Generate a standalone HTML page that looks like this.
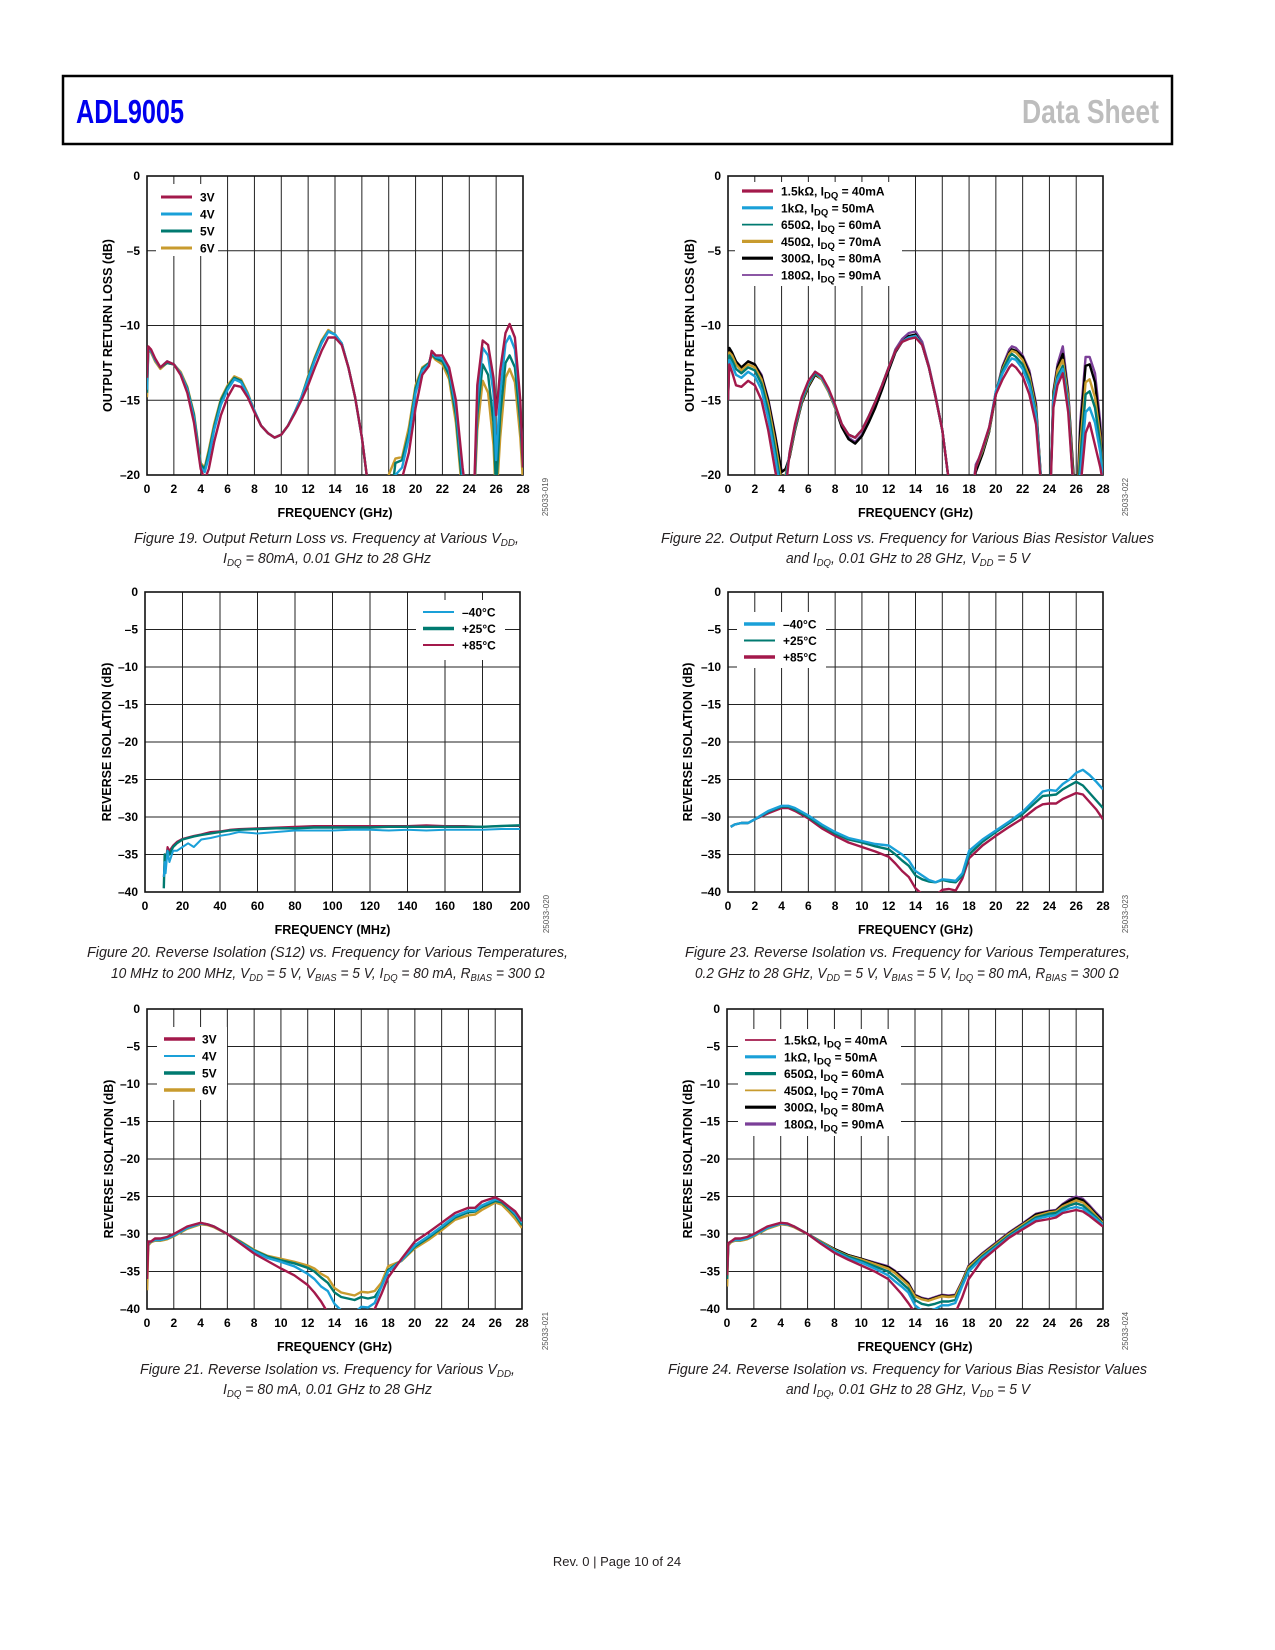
<!DOCTYPE html>
<html><head><meta charset="utf-8"><title>ADL9005 Data Sheet page 10</title>
<style>
html,body{margin:0;padding:0;background:#fff;}
svg{display:block;font-family:"Liberation Sans",sans-serif;}
.cap{font-family:"Liberation Sans",sans-serif;font-style:italic;font-size:14.5px;fill:#231f20;}
</style></head>
<body>
<svg id="page" xmlns="http://www.w3.org/2000/svg" width="1275" height="1650" viewBox="0 0 1275 1650">
<rect x="63" y="76" width="1109" height="68" fill="none" stroke="#000" stroke-width="2.5"/>
<text x="76" y="123" font-size="33" font-weight="bold" fill="#0000ee" textLength="108" lengthAdjust="spacingAndGlyphs">ADL9005</text>
<text x="1022" y="123" font-size="33" font-weight="bold" fill="#bdbdbd" textLength="137" lengthAdjust="spacingAndGlyphs">Data Sheet</text>

<g class="cap">
<text x="134" y="543" textLength="385" lengthAdjust="spacingAndGlyphs">Figure 19. Output Return Loss vs. Frequency at Various V<tspan font-size="10" dy="3">DD</tspan><tspan dy="-3">,</tspan></text>
<text x="223" y="563" textLength="208" lengthAdjust="spacingAndGlyphs">I<tspan font-size="10" dy="3">DQ</tspan><tspan dy="-3"> = 80mA, 0.01 GHz to 28 GHz</tspan></text>
</g>
<g class="cap">
<text x="661" y="543" textLength="493" lengthAdjust="spacingAndGlyphs">Figure 22. Output Return Loss vs. Frequency for Various Bias Resistor Values</text>
<text x="786" y="563" textLength="244" lengthAdjust="spacingAndGlyphs">and I<tspan font-size="10" dy="3">DQ</tspan><tspan dy="-3">, 0.01 GHz to 28 GHz, V</tspan><tspan font-size="10" dy="3">DD</tspan><tspan dy="-3"> = 5 V</tspan></text>
</g>
<g class="cap">
<text x="87" y="957" textLength="481" lengthAdjust="spacingAndGlyphs">Figure 20. Reverse Isolation (S12) vs. Frequency for Various Temperatures,</text>
<text x="111" y="978" textLength="434" lengthAdjust="spacingAndGlyphs">10 MHz to 200 MHz, V<tspan font-size="10" dy="3">DD</tspan><tspan dy="-3"> = 5 V, V</tspan><tspan font-size="10" dy="3">BIAS</tspan><tspan dy="-3"> = 5 V, I</tspan><tspan font-size="10" dy="3">DQ</tspan><tspan dy="-3"> = 80 mA, R</tspan><tspan font-size="10" dy="3">BIAS</tspan><tspan dy="-3"> = 300 Ω</tspan></text>
</g>
<g class="cap">
<text x="685" y="957" textLength="445" lengthAdjust="spacingAndGlyphs">Figure 23. Reverse Isolation vs. Frequency for Various Temperatures,</text>
<text x="695" y="978" textLength="424" lengthAdjust="spacingAndGlyphs">0.2 GHz to 28 GHz, V<tspan font-size="10" dy="3">DD</tspan><tspan dy="-3"> = 5 V, V</tspan><tspan font-size="10" dy="3">BIAS</tspan><tspan dy="-3"> = 5 V, I</tspan><tspan font-size="10" dy="3">DQ</tspan><tspan dy="-3"> = 80 mA, R</tspan><tspan font-size="10" dy="3">BIAS</tspan><tspan dy="-3"> = 300 Ω</tspan></text>
</g>
<g class="cap">
<text x="140" y="1374" textLength="375" lengthAdjust="spacingAndGlyphs">Figure 21. Reverse Isolation vs. Frequency for Various V<tspan font-size="10" dy="3">DD</tspan><tspan dy="-3">,</tspan></text>
<text x="223" y="1394" textLength="209" lengthAdjust="spacingAndGlyphs">I<tspan font-size="10" dy="3">DQ</tspan><tspan dy="-3"> = 80 mA, 0.01 GHz to 28 GHz</tspan></text>
</g>
<g class="cap">
<text x="668" y="1374" textLength="479" lengthAdjust="spacingAndGlyphs">Figure 24. Reverse Isolation vs. Frequency for Various Bias Resistor Values</text>
<text x="786" y="1394" textLength="244" lengthAdjust="spacingAndGlyphs">and I<tspan font-size="10" dy="3">DQ</tspan><tspan dy="-3">, 0.01 GHz to 28 GHz, V</tspan><tspan font-size="10" dy="3">DD</tspan><tspan dy="-3"> = 5 V</tspan></text>
</g>
<text x="617" y="1566" font-size="13" text-anchor="middle" fill="#231f20">Rev. 0 | Page 10 of 24</text>
</svg>
<script>
// ---------- tick arrays ----------
const X_TICKS_GHZ=[0,2,4,6,8,10,12,14,16,18,20,22,24,26,28];
const X_TICKS_MHZ=[0,20,40,60,80,100,120,140,160,180,200];
const Y_TICKS_20=[0,-5,-10,-15,-20];
const Y_TICKS_40=[0,-5,-10,-15,-20,-25,-30,-35,-40];

// ---------- Figure 19 ----------
const F19=[0,0.1,0.3,0.6,1,1.5,2,2.5,3,3.5,4,4.3,4.6,5,5.5,6,6.5,7,7.5,8,8.5,9,9.5,10,10.5,11,11.5,12,12.5,13,13.5,14,14.5,15,15.5,16,16.5,17,18,18.5,19,19.5,20,20.5,21,21.2,21.5,22,22.5,23,23.5,24,24.3,24.6,25,25.4,25.8,26,26.3,26.7,27,27.4,27.8,28];
const ORL_3V=[-13.5,-11.4,-11.6,-12.2,-12.8,-12.4,-12.6,-13.3,-14.5,-16.5,-19.6,-20.3,-19.6,-17.8,-16,-14.8,-14,-14.1,-14.8,-15.8,-16.7,-17.2,-17.5,-17.3,-16.7,-15.9,-15,-14,-12.8,-11.7,-10.8,-10.8,-11.3,-12.8,-14.8,-17.5,-21,-23,-23,-20.5,-20.2,-18.5,-15.5,-13.3,-12.7,-11.7,-12,-12,-12.8,-15,-19.5,-23,-23,-14,-11,-11.3,-13.5,-16,-13,-10.5,-9.9,-10.8,-15,-19.5];
const ORL_4V=[-14.3,-11.5,-11.7,-12.3,-12.8,-12.4,-12.6,-13.2,-14.3,-16.2,-19.5,-19.8,-18.8,-17,-15.3,-14.3,-13.6,-13.8,-14.6,-15.7,-16.7,-17.2,-17.5,-17.3,-16.7,-15.8,-14.8,-13.6,-12.3,-11.2,-10.4,-10.6,-11.2,-12.8,-14.8,-17.5,-21,-23,-23,-20,-19.5,-17.5,-14.5,-13,-12.6,-11.8,-12.1,-12.2,-13,-15.5,-20,-23,-23,-15,-11.5,-12,-14.5,-19,-14.5,-11.2,-10.7,-11.6,-15.5,-19];
const ORL_5V=[-14.5,-11.5,-11.7,-12.3,-12.8,-12.5,-12.6,-13.2,-14.2,-16,-19.3,-19.6,-18.5,-16.8,-15,-14.1,-13.5,-13.7,-14.6,-15.7,-16.7,-17.2,-17.5,-17.3,-16.7,-15.8,-14.8,-13.5,-12.2,-11.1,-10.4,-10.6,-11.2,-12.8,-14.8,-17.5,-21,-23,-23,-19.2,-19,-17.2,-14.2,-12.9,-12.5,-11.9,-12.2,-12.4,-13.3,-16,-21,-23,-23,-16,-12.6,-13.3,-16.5,-21,-16,-12.5,-12,-12.8,-16.5,-19.5];
const ORL_6V=[-14.8,-11.6,-11.8,-12.4,-12.9,-12.5,-12.6,-13.1,-14.1,-15.9,-19.2,-19.5,-18.3,-16.6,-14.9,-14,-13.4,-13.6,-14.5,-15.7,-16.7,-17.2,-17.5,-17.3,-16.7,-15.8,-14.8,-13.4,-12.1,-11,-10.3,-10.6,-11.2,-12.8,-14.8,-17.5,-21,-23,-20,-18.9,-18.8,-16.8,-14,-12.8,-12.5,-12,-12.3,-12.6,-13.6,-16.5,-21.5,-23,-23,-17,-13.7,-14.5,-18,-22,-17.5,-13.5,-12.9,-13.8,-17.5,-20.5];

// ---------- Figure 22 ----------
const F22=F19;
const ORLB_1K5=[-15,-12.6,-13.1,-14,-14.1,-13.7,-14,-15,-17,-19.6,-22,-21,-18.5,-16.6,-14.8,-13.7,-13.1,-13.4,-14.2,-15.3,-16.6,-17.3,-17.5,-17,-16.1,-15.1,-14,-12.8,-11.7,-11.1,-10.9,-10.8,-11.3,-12.8,-14.8,-17,-20.5,-23,-23,-19.5,-18.2,-16.8,-14.6,-13.6,-12.8,-12.6,-12.8,-13.4,-14.6,-16.6,-22,-23,-15.5,-14,-13.2,-15.8,-21,-23,-21,-17.2,-16.5,-18,-19.5,-20.5];
const ORLB_1K=[-15,-12.3,-12.6,-13.3,-13.5,-13.1,-13.4,-14.3,-16.2,-18.7,-21.5,-20.5,-18.5,-16.7,-14.9,-13.8,-13.1,-13.5,-14.3,-15.4,-16.6,-17.3,-17.5,-17,-16.1,-15.1,-14,-12.8,-11.7,-11.1,-10.8,-10.7,-11.3,-12.8,-14.8,-17,-20.5,-23,-23,-19.5,-18.2,-16.8,-14.4,-13.2,-12.4,-12.2,-12.3,-12.9,-14,-16,-22,-23,-15,-13.6,-12.9,-15.4,-21,-23,-20,-15.8,-15.5,-16.5,-18.5,-20.5];
const ORLB_650=[-15,-12,-12.3,-12.9,-13.2,-12.8,-13,-13.9,-15.7,-18.2,-21,-20.2,-18.6,-16.8,-15,-13.9,-13.2,-13.5,-14.3,-15.4,-16.6,-17.3,-17.5,-17,-16.1,-15.1,-14,-12.8,-11.7,-11.1,-10.8,-10.7,-11.3,-12.8,-14.8,-17,-20.5,-23,-23,-19.5,-18.3,-16.9,-14.4,-13,-12.1,-11.9,-12.1,-12.6,-13.7,-15.8,-22,-23,-14.8,-13.4,-12.7,-15.2,-21,-23,-19,-14.6,-14.4,-15.5,-18,-20.5];
const ORLB_450=[-15,-11.8,-12,-12.6,-13,-12.6,-12.8,-13.6,-15.3,-17.7,-20.5,-20,-18.7,-16.9,-15.1,-14,-13.2,-13.6,-14.4,-15.5,-16.6,-17.3,-17.5,-17,-16.1,-15.1,-14,-12.8,-11.7,-11.1,-10.8,-10.7,-11.3,-12.8,-14.8,-17,-20.5,-23,-23,-19.5,-18.4,-17,-14.5,-12.9,-11.9,-11.7,-11.8,-12.3,-13.4,-15.6,-22,-23,-14.7,-13,-12.3,-14.8,-20.5,-23,-18,-13.8,-13.6,-14.8,-17.5,-20.5];
const ORLB_300=[-15,-11.5,-11.8,-12.4,-12.8,-12.4,-12.6,-13.4,-15,-17.3,-19.8,-19.6,-18.8,-17,-15.2,-14.1,-13.3,-13.6,-14.4,-15.5,-16.8,-17.6,-17.9,-17.4,-16.5,-15.5,-14.3,-13,-11.8,-11.1,-10.7,-10.6,-11.3,-12.8,-14.8,-17,-20.5,-23,-23,-19.8,-18.6,-17.1,-14.6,-12.8,-11.8,-11.6,-11.7,-12.1,-13.2,-15.4,-22,-23,-14.5,-12.8,-11.9,-14.6,-20,-23,-17,-12.7,-12.6,-13.8,-17,-20.5];
const ORLB_180=[-15,-11.6,-11.9,-12.5,-12.9,-12.4,-12.6,-13.3,-14.9,-17.2,-19.8,-19.6,-18.8,-17,-15.2,-14.1,-13.3,-13.6,-14.4,-15.5,-16.7,-17.5,-17.8,-17.3,-16.4,-15.4,-14.2,-12.9,-11.6,-10.9,-10.5,-10.4,-11.1,-12.7,-14.7,-17,-20.5,-23,-23,-19.3,-18.4,-17,-14.5,-12.7,-11.6,-11.4,-11.5,-12,-13,-15.2,-22,-23,-14.4,-12.6,-11.4,-14.4,-20,-23,-16.5,-12.1,-12.1,-13.2,-16.5,-20.5];

// ---------- Figure 20 ----------
const F20=[10,10.5,11,12,13,15,17,20,23,26,30,35,40,45,50,60,70,80,90,100,110,120,130,140,150,160,170,180,190,200];
const RI_M40=[-38,-36,-37.5,-34.5,-36,-34.5,-34.5,-34,-33.5,-34,-33,-32.8,-32.5,-32.3,-32,-32.2,-32,-31.8,-31.8,-31.8,-31.7,-31.7,-31.8,-31.7,-31.8,-31.7,-31.7,-31.7,-31.6,-31.6];
const RI_P25=[-39.5,-35,-36.5,-34.5,-35,-34,-33.5,-33,-32.8,-32.6,-32.4,-32.2,-32,-31.8,-31.7,-31.6,-31.5,-31.5,-31.4,-31.4,-31.4,-31.4,-31.3,-31.3,-31.3,-31.3,-31.3,-31.3,-31.2,-31.1];
const RI_P85=[-38,-35.5,-36,-34,-34.5,-33.8,-33.3,-32.9,-32.7,-32.5,-32.3,-32,-31.9,-31.7,-31.6,-31.5,-31.4,-31.3,-31.2,-31.2,-31.2,-31.2,-31.2,-31.2,-31.1,-31.2,-31.2,-31.3,-31.2,-31.2];

// ---------- Figure 23 ----------
const F23=[0.2,0.5,1,1.5,2,3,4,4.5,5,6,7,8,9,10,11,12,12.5,13,13.5,14,14.5,15,15.5,16,16.5,17,17.5,18,19,20,21,22,23,23.5,24,24.5,25,25.5,26,26.5,27,27.5,28];
const RIT_M40=[-31.3,-31,-30.8,-30.8,-30.3,-29.2,-28.5,-28.5,-28.8,-29.8,-31,-32,-32.8,-33.2,-33.6,-33.8,-34.4,-35,-35.8,-37.2,-37.8,-38.4,-38.7,-38.3,-38.4,-38.5,-37.5,-34.5,-33,-31.8,-30.6,-29.3,-27.5,-26.6,-26.4,-26.5,-25.6,-25,-24.1,-23.7,-24.4,-25.3,-26.3];
const RIT_P25=[-31.3,-31,-30.8,-30.8,-30.3,-29.3,-28.6,-28.6,-29,-30,-31.2,-32.2,-33,-33.4,-33.9,-34.3,-35,-35.8,-36.5,-37.8,-38.3,-38.6,-38.7,-38.4,-38.6,-38.7,-37.8,-35,-33.3,-32,-30.8,-29.6,-28,-27.2,-27.1,-27,-26.3,-25.8,-25.3,-25.8,-26.8,-27.8,-28.8];
const RIT_P85=[-31.3,-31,-30.8,-30.8,-30.3,-29.5,-28.8,-28.8,-29.2,-30.2,-31.5,-32.5,-33.4,-34,-34.6,-35.3,-36.2,-37.2,-38,-39.5,-40.3,-40.5,-40.5,-39.7,-39.6,-39.8,-38.2,-35.5,-33.8,-32.5,-31.3,-30.2,-28.8,-28.3,-28.2,-28.2,-27.6,-27.2,-26.8,-27,-28,-29,-30.3];

// ---------- Figure 21 ----------
const F21=[0.01,0.1,0.3,0.6,1,1.5,2,3,4,4.5,5,6,7,8,9,10,11,12,12.5,13,13.5,14,14.5,15,15.5,16,16.5,17,17.5,18,19,20,21,22,23,24,24.5,25,25.5,26,26.5,27,27.5,28];
const RIV_3V=[-36,-31,-31,-30.6,-30.6,-30.4,-30,-29,-28.5,-28.7,-29,-30,-31.3,-32.6,-33.6,-34.6,-35.5,-36.8,-37.8,-39,-40.5,-41,-41,-41,-41,-41,-40.5,-40,-38,-35.8,-33.3,-31,-29.8,-28.5,-27.2,-26.5,-26.5,-25.7,-25.4,-25.1,-25.6,-26.3,-27,-28.3];
const RIV_4V=[-33,-31.3,-31,-30.8,-30.8,-30.6,-30.2,-29.2,-28.6,-28.7,-29,-30,-31.2,-32.3,-33.2,-33.7,-34.3,-35.3,-36,-37,-37.6,-39.3,-40.2,-40.8,-40.5,-39.7,-39.8,-39.2,-37,-35,-33.5,-31.5,-30.3,-29,-27.6,-26.9,-26.9,-26.2,-25.8,-25.4,-25.6,-26.4,-27.3,-28.5];
const RIV_5V=[-34,-31.3,-31,-30.8,-30.8,-30.6,-30.2,-29.2,-28.6,-28.7,-29,-30,-31.1,-32.2,-33,-33.5,-33.9,-34.5,-35,-35.8,-36.5,-37.8,-38.4,-38.6,-38.8,-38.4,-38.6,-38.4,-37,-34.8,-33.5,-31.7,-30.5,-29.2,-27.8,-27.1,-27,-26.4,-26,-25.6,-25.8,-26.6,-27.5,-28.8];
const RIV_6V=[-37.5,-31.5,-31.1,-30.9,-30.9,-30.7,-30.3,-29.3,-28.7,-28.8,-29.1,-30,-31,-32.1,-32.9,-33.3,-33.7,-34.2,-34.6,-35.3,-35.8,-37.2,-37.8,-38,-38.2,-37.7,-37.8,-37.6,-36.5,-34.3,-33.6,-31.9,-30.8,-29.5,-28.1,-27.5,-27.4,-26.8,-26.3,-25.8,-26.1,-27,-28,-29.2];

// ---------- Figure 24 ----------
const F24=F21;
const RIB_1K5=[-35.5,-31.2,-31,-30.6,-30.6,-30.4,-30,-29,-28.5,-28.6,-29,-30,-31.3,-32.5,-33.4,-34.2,-35,-36,-37,-38,-39.2,-40.5,-41,-41,-41,-41,-41,-40.5,-38.5,-36,-33.5,-32,-30.5,-29.4,-28.3,-28,-27.8,-27.2,-27,-26.8,-27,-27.6,-28.3,-29];
const RIB_1K=[-35,-31.3,-31,-30.8,-30.8,-30.6,-30.2,-29.2,-28.6,-28.7,-29,-30,-31.2,-32.3,-33.2,-33.8,-34.6,-35.5,-36.3,-37,-37.8,-39.5,-40.2,-40.3,-40,-39.5,-39.5,-39.2,-37,-35,-33.2,-31.8,-30.4,-29.2,-28,-27.6,-27.5,-26.9,-26.6,-26.4,-26.6,-27.3,-28,-28.8];
const RIB_650=[-36,-31.3,-31,-30.8,-30.8,-30.6,-30.2,-29.2,-28.6,-28.7,-29,-30,-31.1,-32.2,-33,-33.6,-34.3,-35,-35.7,-36.5,-37.3,-38.8,-39.3,-39.5,-39.3,-39,-39,-38.8,-36.8,-34.7,-33,-31.6,-30.2,-29,-27.8,-27.3,-27.2,-26.6,-26.2,-25.9,-26.2,-27,-27.8,-28.7];
const RIB_450=[-37,-31.5,-31.1,-30.9,-30.9,-30.7,-30.3,-29.3,-28.7,-28.8,-29.1,-30,-31,-32.1,-32.9,-33.4,-34,-34.6,-35.2,-36,-36.8,-38.3,-38.7,-38.9,-38.6,-38.3,-38.4,-38.3,-36.5,-34.4,-32.8,-31.4,-30,-28.8,-27.6,-27.1,-27,-26.3,-25.9,-25.5,-25.8,-26.6,-27.6,-28.5];
const RIB_300=[-32,-31.3,-31,-30.8,-30.8,-30.6,-30.2,-29.2,-28.6,-28.7,-29,-30,-31,-32,-32.8,-33.3,-33.9,-34.4,-35,-35.8,-36.6,-38.2,-38.6,-38.8,-38.5,-38.2,-38.3,-38.2,-36.4,-34.3,-32.7,-31.3,-29.9,-28.7,-27.4,-27,-26.9,-26.1,-25.6,-25.2,-25.5,-26.4,-27.4,-28.3];
const RIB_180=[-31.5,-31.3,-31,-30.8,-30.8,-30.6,-30.2,-29.2,-28.6,-28.7,-29,-30,-31,-32,-32.8,-33.3,-33.8,-34.3,-34.9,-35.7,-36.5,-38.1,-38.5,-38.7,-38.4,-38.1,-38.2,-38.1,-36.3,-34.2,-32.6,-31.2,-29.8,-28.6,-27.3,-26.9,-26.8,-26,-25.4,-25,-25.3,-26.2,-27.2,-28.1];

// ---------- rendering ----------
const NS='http://www.w3.org/2000/svg';
const root=document.getElementById('page');
const C_RED='#a3194b',C_BLUE='#1aa0d8',C_TEAL='#007a70',C_GOLD='#c89b2e',C_BLACK='#000',C_PURP='#7b3f98';
function mk(tag,attrs,parent){const e=document.createElementNS(NS,tag);for(const k in attrs)e.setAttribute(k,attrs[k]);if(parent)parent.appendChild(e);return e;}
function fmtTick(v){return v<0?'\u2013'+(-v):String(v);}
let clipN=0;
function drawChart(c){
  const g=mk('g',{},root);
  
  
  const sx=v=>c.x0+(v-c.xmin)/(c.xmax-c.xmin)*(c.x1-c.x0);
  const sy=v=>c.y0+(c.ymax-v)/(c.ymax-c.ymin)*(c.y1-c.y0);
  const grid=mk('g',{stroke:'#222','stroke-width':'1'},g);
  
  
  c.xticks.forEach(t=>{
    mk('line',{x1:sx(t),x2:sx(t),y1:c.y0,y2:c.y1},grid);
    const tl=mk('text',{x:sx(t),y:c.y1+18,'text-anchor':'middle','font-size':'12','font-weight':'bold',fill:'#000'},g);
    
    
    tl.textContent=fmtTick(t);
  });
  c.yticks.forEach(t=>{
    mk('line',{x1:c.x0,x2:c.x1,y1:sy(t),y2:sy(t)},grid);
    const tl=mk('text',{x:c.x0-7,y:sy(t)+4,'text-anchor':'end','font-size':'12','font-weight':'bold',fill:'#000'},g);
    
    
    tl.textContent=fmtTick(t);
  });
  // legend background
  const lb=mk('rect',{x:c.lg.bx,y:c.lg.by,width:c.lg.bw,height:c.lg.bh,fill:'#fff'},g);
  
  
  const fr=mk('rect',{x:c.x0,y:c.y0,width:c.x1-c.x0,height:c.y1-c.y0,fill:'none',stroke:'#111','stroke-width':'1.6'},g);
  
  
  const cid='clip'+(clipN++);
  const cp=mk('clipPath',{id:cid},g);
  mk('rect',{x:c.x0,y:c.y0,width:c.x1-c.x0,height:c.y1-c.y0},cp);
  const sg=mk('g',{'clip-path':'url(#'+cid+')'},g);
  c.series.slice().reverse().forEach(s=>{
    let d='';
    s.x.forEach((xv,i)=>{d+=(i?'L':'M')+sx(xv).toFixed(1)+','+sy(s.y[i]).toFixed(1);});
    const p=mk('path',{d:d,fill:'none',stroke:s.color,'stroke-width':s.w||2.4,'stroke-linejoin':'round'},sg);
    
    
  });
  c.series.forEach((s,i)=>{
    const y=c.lg.y+i*c.lg.dy;
    const ln=mk('line',{x1:c.lg.lx,x2:c.lg.lx+31,y1:y,y2:y,stroke:s.color,'stroke-width':s.lw||3},g);
    
    
    const t=mk('text',{x:c.lg.tx,y:y+4.5,'font-size':'12','font-weight':'bold',fill:'#000'},g);
    
    
    if(Array.isArray(s.label)){
      t.appendChild(document.createTextNode(s.label[0]));
      const sub=mk('tspan',{'font-size':'9.5',dy:'3'},t);sub.textContent=s.label[1];
      const rest=mk('tspan',{dy:'-3'},t);rest.textContent=s.label[2];
    } else t.textContent=s.label;
  });
  const xt=mk('text',{x:(c.x0+c.x1)/2,y:c.y1+42,'text-anchor':'middle','font-size':'12.5','font-weight':'bold',fill:'#000'},g);
  
  
  xt.textContent=c.xtitle;
  const ycy=(c.y0+c.y1)/2;
  const yt=mk('text',{x:c.ytx,y:ycy,'text-anchor':'middle','font-size':'12.5','font-weight':'bold',fill:'#000',transform:'rotate(-90 '+c.ytx+' '+ycy+')'},g);
  
  
  yt.textContent=c.ytitle;
  const cx=c.codeX, cy=c.y1+22;
  const ct=mk('text',{x:cx,y:cy,'text-anchor':'middle','font-size':'8',fill:'#555',transform:'rotate(-90 '+cx+' '+cy+')'},g);
  
  
  ct.textContent=c.code;
}
const GHZ='FREQUENCY (GHz)';
drawChart({name:'figure-19-output-return-loss-vs-vdd',x0:147,x1:523,y0:176,y1:475,xmin:0,xmax:28,ymin:-20,ymax:0,
  xticks:X_TICKS_GHZ,yticks:Y_TICKS_20,xtitle:GHZ,ytitle:'OUTPUT RETURN LOSS (dB)',ytx:112,codeX:548,code:'25033-019',
  lg:{bx:156,by:184,bw:62,bh:72,lx:161,tx:200,y:197,dy:17},
  series:[{key:'3v',label:'3V',x:F19,y:ORL_3V,color:C_RED},{key:'4v',label:'4V',x:F19,y:ORL_4V,color:C_BLUE},
          {key:'5v',label:'5V',x:F19,y:ORL_5V,color:C_TEAL},{key:'6v',label:'6V',x:F19,y:ORL_6V,color:C_GOLD}]});
drawChart({name:'figure-22-output-return-loss-vs-bias',x0:728,x1:1103,y0:176,y1:475,xmin:0,xmax:28,ymin:-20,ymax:0,
  xticks:X_TICKS_GHZ,yticks:Y_TICKS_20,xtitle:GHZ,ytitle:'OUTPUT RETURN LOSS (dB)',ytx:694,codeX:1128,code:'25033-022',
  lg:{bx:735,by:182,bw:167,bh:104,lx:742,tx:781,y:191,dy:16.8},
  series:[{key:'1k5',label:['1.5k\u03a9, I','DQ',' = 40mA'],x:F22,y:ORLB_1K5,color:C_RED,lw:3.2},
          {key:'1k',label:['1k\u03a9, I','DQ',' = 50mA'],x:F22,y:ORLB_1K,color:C_BLUE,lw:3.2},
          {key:'650',label:['650\u03a9, I','DQ',' = 60mA'],x:F22,y:ORLB_650,color:C_TEAL,lw:1.8},
          {key:'450',label:['450\u03a9, I','DQ',' = 70mA'],x:F22,y:ORLB_450,color:C_GOLD,lw:3.2},
          {key:'300',label:['300\u03a9, I','DQ',' = 80mA'],x:F22,y:ORLB_300,color:C_BLACK,lw:3.2},
          {key:'180',label:['180\u03a9, I','DQ',' = 90mA'],x:F22,y:ORLB_180,color:C_PURP,lw:1.8}]});
drawChart({name:'figure-20-reverse-isolation-vs-temp-mhz',x0:145,x1:520,y0:592,y1:892,xmin:0,xmax:200,ymin:-40,ymax:0,
  xticks:X_TICKS_MHZ,yticks:Y_TICKS_40,xtitle:'FREQUENCY (MHz)',ytitle:'REVERSE ISOLATION (dB)',ytx:111,codeX:549,code:'25033-020',
  lg:{bx:416,by:600,bw:89,bh:60,lx:423,tx:462,y:612,dy:16.5},
  series:[{key:'m40c',label:'\u201340\u00b0C',x:F20,y:RI_M40,color:C_BLUE,w:2,lw:2},
          {key:'p25c',label:'+25\u00b0C',x:F20,y:RI_P25,color:C_TEAL,w:2.4,lw:3.4},
          {key:'p85c',label:'+85\u00b0C',x:F20,y:RI_P85,color:C_RED,w:2,lw:2}]});
drawChart({name:'figure-23-reverse-isolation-vs-temp-ghz',x0:728,x1:1103,y0:592,y1:892,xmin:0,xmax:28,ymin:-40,ymax:0,
  xticks:X_TICKS_GHZ,yticks:Y_TICKS_40,xtitle:GHZ,ytitle:'REVERSE ISOLATION (dB)',ytx:692,codeX:1128,code:'25033-023',
  lg:{bx:737,by:612,bw:89,bh:56,lx:744,tx:783,y:624,dy:16.5},
  series:[{key:'m40c',label:'\u201340\u00b0C',x:F23,y:RIT_M40,color:C_BLUE,lw:3.4},
          {key:'p25c',label:'+25\u00b0C',x:F23,y:RIT_P25,color:C_TEAL,lw:2},
          {key:'p85c',label:'+85\u00b0C',x:F23,y:RIT_P85,color:C_RED,lw:3.4}]});
drawChart({name:'figure-21-reverse-isolation-vs-vdd',x0:147,x1:522,y0:1009,y1:1309,xmin:0,xmax:28,ymin:-40,ymax:0,
  xticks:X_TICKS_GHZ,yticks:Y_TICKS_40,xtitle:GHZ,ytitle:'REVERSE ISOLATION (dB)',ytx:113,codeX:548,code:'25033-021',
  lg:{bx:157,by:1027,bw:70,bh:73,lx:164,tx:202,y:1039,dy:17},
  series:[{key:'3v',label:'3V',x:F21,y:RIV_3V,color:C_RED,lw:3.4},{key:'4v',label:'4V',x:F21,y:RIV_4V,color:C_BLUE,lw:2},
          {key:'5v',label:'5V',x:F21,y:RIV_5V,color:C_TEAL,lw:3.4},{key:'6v',label:'6V',x:F21,y:RIV_6V,color:C_GOLD,lw:3.4}]});
drawChart({name:'figure-24-reverse-isolation-vs-bias',x0:727,x1:1103,y0:1009,y1:1309,xmin:0,xmax:28,ymin:-40,ymax:0,
  xticks:X_TICKS_GHZ,yticks:Y_TICKS_40,xtitle:GHZ,ytitle:'REVERSE ISOLATION (dB)',ytx:692,codeX:1128,code:'25033-024',
  lg:{bx:738,by:1029,bw:163,bh:107,lx:745,tx:784,y:1040,dy:16.8},
  series:[{key:'1k5',label:['1.5k\u03a9, I','DQ',' = 40mA'],x:F24,y:RIB_1K5,color:C_RED,lw:1.8},
          {key:'1k',label:['1k\u03a9, I','DQ',' = 50mA'],x:F24,y:RIB_1K,color:C_BLUE,lw:3.2},
          {key:'650',label:['650\u03a9, I','DQ',' = 60mA'],x:F24,y:RIB_650,color:C_TEAL,lw:3.2},
          {key:'450',label:['450\u03a9, I','DQ',' = 70mA'],x:F24,y:RIB_450,color:C_GOLD,lw:1.8},
          {key:'300',label:['300\u03a9, I','DQ',' = 80mA'],x:F24,y:RIB_300,color:C_BLACK,lw:3.2},
          {key:'180',label:['180\u03a9, I','DQ',' = 90mA'],x:F24,y:RIB_180,color:C_PURP,lw:3.2}]});
</script>
</body></html>
